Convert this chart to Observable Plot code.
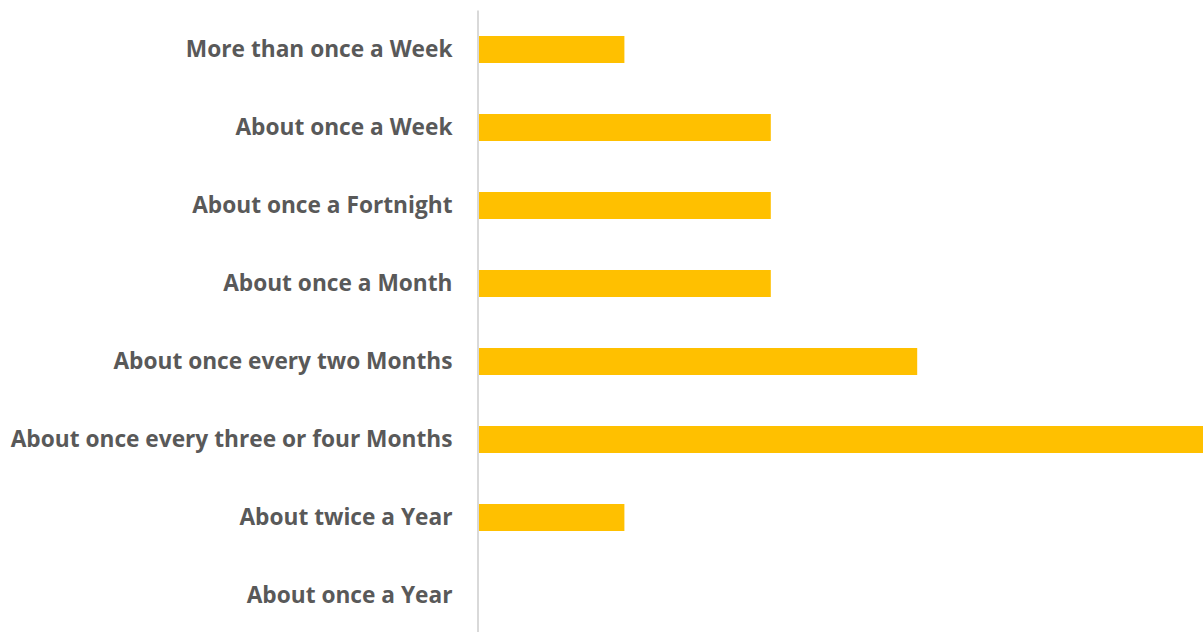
<!DOCTYPE html>
<html>
<head>
<meta charset="utf-8">
<script src="https://cdn.jsdelivr.net/npm/d3@7"></script>
<script src="https://cdn.jsdelivr.net/npm/@observablehq/plot@0.6"></script>
<style>
  html, body { margin: 0; padding: 0; background: #fff; overflow: hidden; }
</style>
</head>
<body>
<div id="chart"></div>
<script>
const categories = [
  "More than once a Week",
  "About once a Week",
  "About once a Fortnight",
  "About once a Month",
  "About once every two Months",
  "About once every three or four Months",
  "About twice a Year",
  "About once a Year"
];
const values = [1, 2, 2, 2, 3, 5, 1, 0];

const data = categories.map((c, i) => ({category: c, value: values[i]}));

const chart = Plot.plot({
  width: 1203,
  height: 632,
  marginLeft: 478,
  marginRight: -7,
  marginTop: 10.5,
  marginBottom: -3,
  style: {fontFamily: "'Open Sans', sans-serif", fontSize: "22.7px", fontWeight: "bold", color: "#595959", background: "#fff", overflow: "hidden"},
  x: {domain: [0, 5], axis: null},
  y: {domain: categories, paddingInner: 0.654, paddingOuter: 0.327, label: null},
  marks: [
    Plot.barX(data, {x: "value", y: "category", fill: "#FFC000", inset: 0}),
    Plot.ruleX([0], {stroke: "#d9d9d9", strokeWidth: 2, dx: -0.5}),
    Plot.axisY({tickSize: 0, tickPadding: 26, label: null, fontSize: 22.7, fontWeight: "bold", fill: "#595959"})
  ]
});
document.getElementById("chart").appendChild(chart);
</script>
</body>
</html>
